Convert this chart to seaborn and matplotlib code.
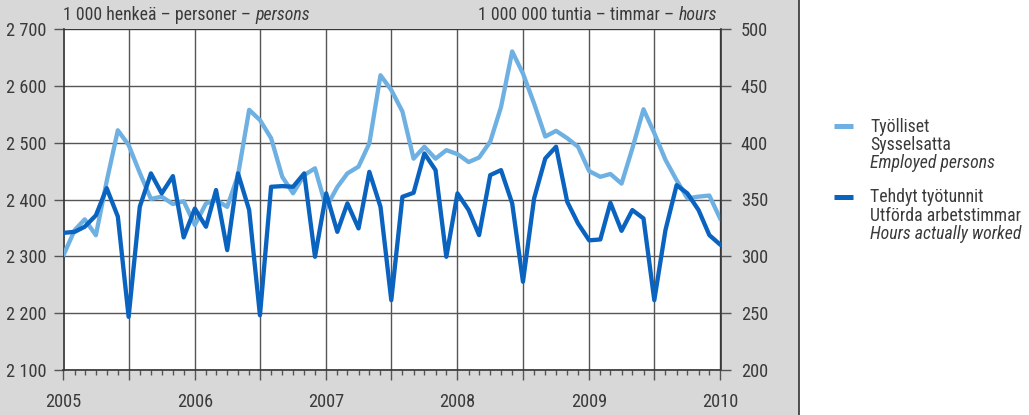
import matplotlib
matplotlib.use("Agg")
import matplotlib.pyplot as plt
from matplotlib.lines import Line2D
from matplotlib.patches import Rectangle
from matplotlib import font_manager as fm
import matplotlib.dates as mdates
import seaborn as sns
import pandas as pd

# ---- data ----
months = pd.date_range("2005-01-01", periods=61, freq="MS")
employed = [2302, 2346, 2365, 2337, 2432, 2522, 2496, 2447, 2401, 2405, 2392, 2397,
            2355, 2393, 2399, 2387, 2443, 2558, 2540, 2508, 2440, 2411, 2443, 2455,
            2386, 2422, 2446, 2458, 2499, 2619, 2593, 2555, 2472, 2493, 2472, 2487,
            2480, 2466, 2474, 2502, 2563, 2661, 2622, 2569, 2511, 2521, 2508, 2493,
            2450, 2440, 2445, 2428, 2490, 2559, 2517, 2470, 2434, 2402, 2405, 2407,
            2365]
hours = [320.6, 321.5, 326, 336, 360, 335, 246.6, 343.6, 373, 355.4, 370.6, 316.6,
         342, 326, 358.3, 305.4, 373, 340.7, 248, 361.2, 361.8, 361.2, 373, 299.5,
         355.4, 321.5, 346.6, 324.5, 374.4, 343.6, 261.3, 352.4, 355.9, 390.6, 375.9, 299.5,
         355.4, 340.7, 318.6, 371.5, 375.9, 346.6, 277.5, 351, 386.2, 396.5, 348, 328.9,
         314, 314.8, 347.1, 322.4, 340.7, 333.3, 261.3, 323, 362.7, 355.4, 340.7, 318.6,
         310]
left_ticks = [2100, 2200, 2300, 2400, 2500, 2600, 2700]
left_labels = ["2 100", "2 200", "2 300", "2 400", "2 500", "2 600", "2 700"]
right_ticks = [200, 250, 300, 350, 400, 450, 500]
years = [2005, 2006, 2007, 2008, 2009, 2010]
legend_employed = ["Työlliset", "Sysselsatta", "Employed persons"]
legend_hours = ["Tehdyt työtunnit", "Utförda arbetstimmar", "Hours actually worked"]
title_left = ("1 000 henkeä – personer – ", "persons")
title_right = ("1 000 000 tuntia – timmar – ", "hours")

df = pd.DataFrame({"month": months, "employed": employed, "hours": hours})

LIGHT = "#6eb0e2"
DARK = "#0b63c0"
TXT = "#3a3a3a"
GRID = "#555555"

# ---- pick a condensed font if one is installed ----
ttf = fm.fontManager.ttflist
names = {f.name for f in ttf}
family, stretch, scale = "Liberation Sans", "normal", 0.86
for cand in ["Roboto Condensed", "Liberation Sans Narrow", "Noto Sans Condensed",
             "Open Sans Condensed", "DejaVu Sans Condensed"]:
    if cand in names:
        family, stretch, scale = cand, "normal", 1.0
        break
else:
    dv = [f for f in ttf if f.name == "DejaVu Sans" and
          ("Condensed" in f.fname or f.stretch in ("condensed", 375))]
    if dv:
        family, stretch, scale = "DejaVu Sans", "condensed", 0.92

sns.set_theme(style="white")
plt.rcParams["font.family"] = [family, "DejaVu Sans"]
plt.rcParams["font.stretch"] = stretch
FS = 13.2 * scale      # tick labels
TS = 12.8 * scale      # titles
LS = 12.8 * scale      # legend

fig = plt.figure(figsize=(10.29, 4.15), dpi=100)
fig.patch.set_facecolor("white")
fig.add_artist(Rectangle((0, 0), 799 / 1029, 1, transform=fig.transFigure,
                         facecolor="#d8d8d8", edgecolor="none", zorder=-10))
fig.add_artist(Line2D([799 / 1029, 799 / 1029], [0, 1], transform=fig.transFigure,
                      color="#333333", lw=1.2))

L, R = 63.5 / 1029, 720.5 / 1029
T, B = 1 - 29.3 / 415, 1 - 369.7 / 415
ax = fig.add_axes([L, B, R - L, T - B])
ax.set_facecolor("white")
ax2 = ax.twinx()

sns.lineplot(data=df, x="month", y="employed", ax=ax, color=LIGHT, lw=3.1, zorder=3)
sns.lineplot(data=df, x="month", y="hours", ax=ax2, color=DARK, lw=3.1, zorder=4)

ax.set_xlim(months[0], months[-1])
ax.set_ylim(2100, 2700)
ax2.set_ylim(200, 500)
ax.set_xlabel("")
ax.set_ylabel("")
ax2.set_ylabel("")

ax.set_yticks(left_ticks)
ax.set_yticklabels(left_labels)
ax2.set_yticks(right_ticks)
ax2.set_yticklabels([str(t) for t in right_ticks])

ax.xaxis.set_major_locator(mdates.MonthLocator(bymonth=[1, 7]))
ax.xaxis.set_minor_locator(mdates.MonthLocator())
ticks = ax.get_xticks()
lbls = []
for d in ticks:
    dt = mdates.num2date(d)
    lbls.append(str(dt.year) if dt.month == 1 and dt.year in years else "")
ax.set_xticks(ticks)
ax.set_xticklabels(lbls)

ax.grid(True, which="major", color=GRID, lw=1.0)
ax2.grid(False)
ax.set_axisbelow(True)

ax.tick_params(axis="x", which="major", direction="out", length=7.5, width=1.0,
               color=GRID, labelsize=FS, labelcolor=TXT, pad=9, bottom=True)
ax.tick_params(axis="x", which="minor", direction="out", length=3.6, width=1.0,
               color=GRID, bottom=True)
ax.tick_params(axis="y", direction="out", length=7.5, width=1.0, color=GRID,
               labelsize=FS, labelcolor=TXT, pad=5, left=True)
ax2.tick_params(axis="y", direction="out", length=7.5, width=1.0, color=GRID,
                labelsize=FS, labelcolor=TXT, pad=7, right=True)
for a in (ax, ax2):
    for s in a.spines.values():
        s.set_color("#333333")
        s.set_linewidth(1.2)
    a.spines["top"].set_visible(False)
ax.spines["right"].set_visible(False)
ax2.spines["left"].set_visible(False)
ax2.spines["bottom"].set_visible(False)
ax.axhline(2700, color="#333333", lw=1.2, zorder=1)

# titles with italic suffix
fig.canvas.draw()
rend = fig.canvas.get_renderer()
y_title = 1 - 15 / 415
t1 = fig.text(63 / 1029, y_title, title_left[0], ha="left", va="center", color=TXT, fontsize=TS)
bb = t1.get_window_extent(rend)
fig.text(bb.x1 / fig.bbox.width, y_title, title_left[1], ha="left", va="center",
         color=TXT, fontsize=TS, style="italic")
t2 = fig.text(717 / 1029, y_title, title_right[1], ha="right", va="center", color=TXT,
              fontsize=TS, style="italic")
bb2 = t2.get_window_extent(rend)
fig.text(bb2.x0 / fig.bbox.width, y_title, title_right[0], ha="right", va="center",
         color=TXT, fontsize=TS)

# legend (manual)
def legend_block(y_px, color, lines):
    yf = 1 - y_px / 415
    fig.add_artist(Line2D([834 / 1029, 853 / 1029], [yf, yf], transform=fig.transFigure,
                          color=color, lw=3.6, solid_capstyle="butt"))
    for i, s in enumerate(lines):
        fig.text(870 / 1029, 1 - (y_px + i * 18.3) / 415, s, ha="left", va="center",
                 color=TXT, fontsize=LS, style="italic" if i == 2 else "normal")

legend_block(126.5, LIGHT, legend_employed)
legend_block(197.5, DARK, legend_hours)

fig.savefig("out.png", dpi=100)
